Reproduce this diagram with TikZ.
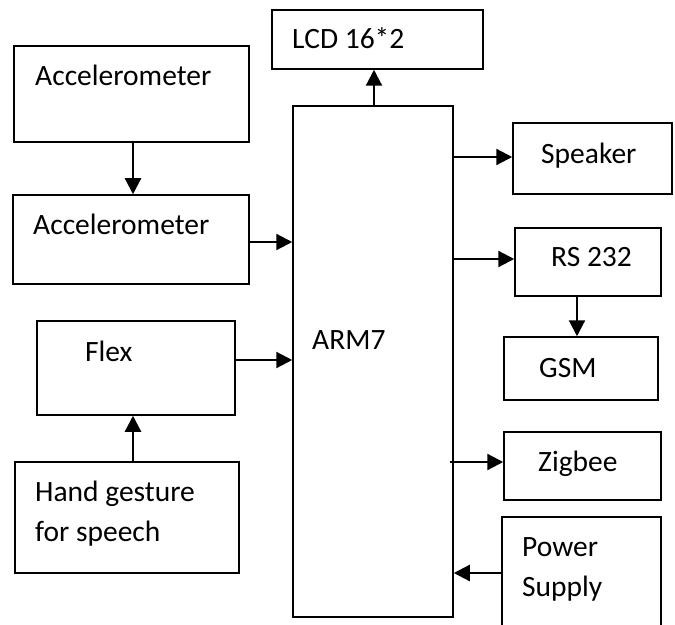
\documentclass[tikz,border=0pt]{standalone}
\usepackage{fontspec}
\setmainfont{Carlito}
\usetikzlibrary{arrows.meta,calc}
\begin{document}
\begin{tikzpicture}[x=1bp,y=-1bp,
  box/.style={draw,line width=1.5bp,rectangle,inner sep=0pt},
  openbox/.style={rectangle,inner sep=0pt},
  arr/.style={line width=2.2bp,-{Triangle[length=16bp,width=16bp]}},
  txt/.style={anchor=base west,inner sep=0pt,font=\fontsize{29.5bp}{35bp}\selectfont}]
\useasboundingbox (0,0) rectangle (675,625);
% boxes
\node[box,minimum width=235bp,minimum height=96bp] (acc1) at (131.5,94) {};
\node[box,minimum width=236bp,minimum height=89bp] (acc2) at (131,239.5) {};
\node[box,minimum width=198bp,minimum height=94bp] (flex) at (136,368) {};
\node[box,minimum width=224bp,minimum height=111bp] (hand) at (127,517.5) {};
\node[box,minimum width=211bp,minimum height=59bp] (lcd) at (377.5,39.5) {};
\node[box,minimum width=160bp,minimum height=511bp] (arm) at (373,361.5) {};
\node[box,minimum width=159bp,minimum height=71bp] (spk) at (592.5,158.5) {};
\node[box,minimum width=146bp,minimum height=68bp] (rs) at (588,262) {};
\node[box,minimum width=154bp,minimum height=63bp] (gsm) at (581,368.5) {};
\node[box,minimum width=157bp,minimum height=68bp] (zig) at (582.5,466) {};
\node[openbox,minimum width=159bp,minimum height=108bp] (pwr) at (581.5,571) {};
\draw[line width=1.5bp] (pwr.south west) -- (pwr.north west) -- (pwr.north east) -- (pwr.south east);
% texts
\node[txt] (t1) at (35,86) {Accelerometer};
\node[txt] (t2) at (33,234) {Accelerometer};
\node[txt] (t3) at (85,361) {Flex};
\node[txt] (t4a) at (35,501) {Hand gesture};
\node[txt] (t4b) at (35,541) {for speech};
\node[txt] (t5) at (292,49) {LCD 16*2};
\node[txt] (t6) at (312,349) {ARM7};
\node[txt] (t7) at (541,164) {Speaker};
\node[txt] (t8) at (551,266) {RS 232};
\node[txt] (t9) at (539,377) {GSM};
\node[txt] (t10) at (538,471) {Zigbee};
\node[txt] (t11a) at (522,556) {Power};
\node[txt] (t11b) at (522,596) {Supply};
% connectors
\coordinate (c1) at ($(acc1.south)+(1.5,0)$);
\draw[arr] (c1) -- (c1 |- acc2.north);
\coordinate (c2) at ($(acc2.east)+(0,2.5)$);
\draw[arr] (c2) -- (c2 -| arm.west);
\coordinate (c3) at ($(flex.east)+(0,-8)$);
\draw[arr] (c3) -- (c3 -| arm.west);
\coordinate (c4) at ($(hand.north)+(6,0)$);
\draw[arr] (c4) -- (c4 |- flex.south);
\coordinate (c5) at ($(arm.north)+(1,0)$);
\draw[arr] (c5) -- (c5 |- lcd.south);
\coordinate (c6) at ($(spk.west)+(0,-1.5)$);
\draw[arr] ($(c6 -| arm.east)+(-2,0)$) -- (c6);
\coordinate (c7) at ($(rs.west)+(0,-3)$);
\draw[arr] (c7 -| arm.east) -- (c7);
\coordinate (c8) at ($(rs.south)+(-11,0)$);
\draw[arr] (c8) -- (c8 |- gsm.north);
\coordinate (c9) at ($(zig.west)+(0,-4)$);
\draw[arr] ($(c9 -| arm.east)+(-4,0)$) -- (c9);
\coordinate (c10) at ($(pwr.west)+(0,2)$);
\draw[arr] (c10) -- (c10 -| arm.east);
\end{tikzpicture}
\end{document}
